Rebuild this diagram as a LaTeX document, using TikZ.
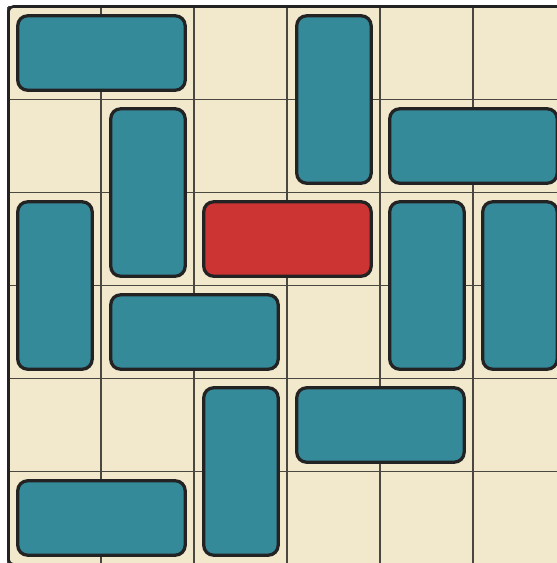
\documentclass[tikz,border=0pt]{standalone}
\usepackage{tikz}
\usetikzlibrary{positioning}
\definecolor{bcream}{HTML}{F2E9CD}
\definecolor{bteal}{HTML}{358A9A}
\definecolor{bred}{HTML}{CC3434}
\definecolor{bline}{HTML}{4A4740}
\definecolor{bedge}{HTML}{232323}
\tikzset{
  hblock/.style={draw=bedge, fill=bteal, line width=1pt, rounded corners=3pt,
                 minimum width=1.8cm, minimum height=0.8cm, inner sep=0pt, outer sep=0pt},
  vblock/.style={draw=bedge, fill=bteal, line width=1pt, rounded corners=3pt,
                 minimum width=0.8cm, minimum height=1.8cm, inner sep=0pt, outer sep=0pt},
  goal/.style={hblock, fill=bred},
  cell/.style={bline, line width=0.6pt},
}

\begin{document}
\begin{tikzpicture}
  \useasboundingbox (-0.091,0.070) rectangle (5.898,-5.984);
  % board
  \fill[bcream, rounded corners=1.5pt] (0,0) rectangle (6,-6);
  \draw[cell] (0,-6) grid (6,0);
  \draw[bedge, line width=0.8pt, rounded corners=1.5pt] (0,0) rectangle (6,-6);
  % blocks
  \node[hblock] (b1) at (1,-0.5) {};
  \node[vblock] (b2) at (3.5,-1) {};
  \node[vblock] (b3) at (1.5,-2) {};
  \node[hblock] (b4) at (5,-1.5) {};
  \node[vblock] (b5) at (0.5,-3) {};
  \node[goal] (car) at (3,-2.5) {};
  \node[vblock] (b6) at (4.5,-3) {};
  \node[vblock] (b7) at (5.5,-3) {};
  \node[hblock] (b8) at (2,-3.5) {};
  \node[vblock] (b9) at (2.5,-5) {};
  \node[hblock] (b10) at (4,-4.5) {};
  \node[hblock] (b11) at (1,-5.5) {};
\end{tikzpicture}
\end{document}
